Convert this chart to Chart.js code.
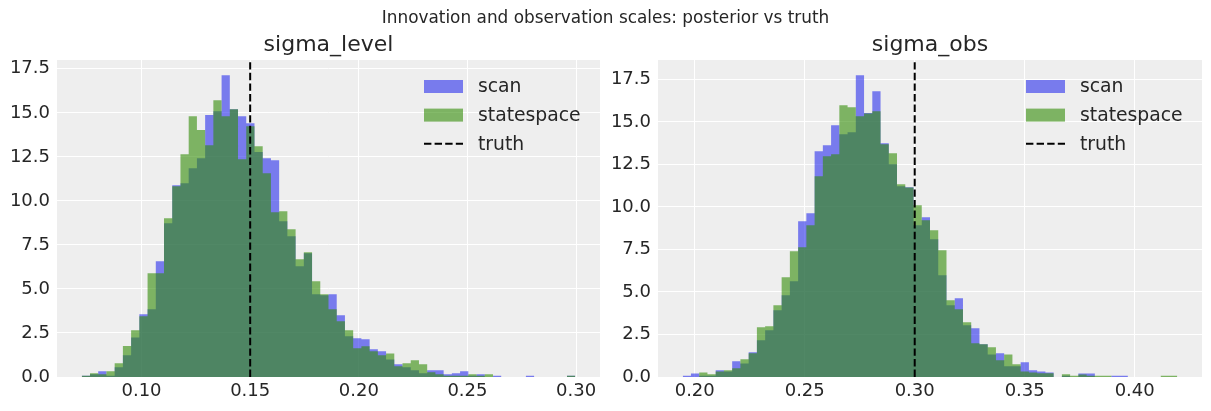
<!DOCTYPE html>
<html>
<head>
<meta charset="utf-8">
<title>Innovation and observation scales</title>
<script src="https://cdn.jsdelivr.net/npm/chart.js"></script>
<style>
  body { margin: 0; background: #fff; width: 1211px; height: 411px; position: relative; overflow: hidden; font-family: 'DejaVu Sans', sans-serif; }
  #suptitle { position: absolute; top: 7px; left: 0; width: 1211px; text-align: center; font-size: 16.9px; color: #262626; z-index: 2; }
  .panel { position: absolute; top: 0; height: 411px; }
</style>
</head>
<body>
<div class="panel" style="left:0;width:605px"><canvas id="levelChart" width="605" height="411"></canvas></div>
<div class="panel" style="left:605px;width:606px"><canvas id="obsChart" width="606" height="411"></canvas></div>
<div id="suptitle">Innovation and observation scales: posterior vs truth</div>
<script>
// histogram densities, 60 shared bins per panel
var levelBinStart = 0.0725;
var levelBinWidth = 0.003785;
var levelScan = [0.07, 0.15, 0.32, 0.07, 0.55, 1.23, 2.25, 3.56, 3.84, 6.57,
  8.73, 10.89, 11.0, 11.86, 12.42, 14.87, 15.09, 17.14, 15.21, 14.81,
  14.41, 12.77, 12.42, 12.31, 8.84, 7.99, 6.29, 7.03, 4.70, 4.64,
  4.70, 3.50, 2.31, 2.20, 2.14, 1.57, 1.46, 1.00, 0.72, 0.55,
  0.38, 0.21, 0.38, 0.38, 0.15, 0.21, 0.32, 0.07, 0.15, 0,
  0.07, 0, 0, 0, 0.07, 0, 0, 0, 0, 0.07];
var levelStatespace = [0.07, 0.21, 0.15, 0.32, 0.78, 1.76, 2.65, 3.45, 5.89, 5.89,
  9.02, 10.83, 12.65, 14.81, 14.02, 13.16, 15.72, 14.81, 15.2, 12.37,
  14.24, 13.1, 11.57, 9.36, 9.41, 8.39, 6.69, 7.08, 5.44, 4.70,
  3.84, 3.16, 2.65, 1.63, 1.74, 1.46, 1.23, 1.34, 0.61, 0.78,
  0.95, 0.72, 0.27, 0.15, 0.07, 0.07, 0.07, 0.15, 0.07, 0.15,
  0, 0, 0, 0, 0, 0, 0, 0, 0, 0.07];
var levelTruth = 0.15;

var obsBinStart = 0.19454;
var obsBinWidth = 0.003747;
var obsScan = [0.07, 0.2, 0.07, 0.07, 0.39, 0.33, 0.92, 0.80, 1.45, 2.16,
  2.75, 3.92, 4.80, 5.63, 9.16, 9.63, 13.27, 13.63, 14.80, 14.27,
  14.39, 17.75, 15.53, 16.80, 13.75, 12.51, 11.22, 11.16, 8.92, 9.39,
  8.10, 5.98, 4.22, 4.63, 3.04, 2.86, 1.92, 1.33, 1.39, 0.63,
  0.63, 0.86, 0.39, 0.33, 0.27, 0, 0.07, 0, 0.2, 0.2,
  0, 0, 0.07, 0.07, 0, 0, 0, 0, 0, 0];
var obsStatespace = [0, 0, 0.27, 0.16, 0.33, 0.39, 0.51, 1.04, 1.39, 2.92,
  2.98, 4.22, 5.86, 7.39, 7.63, 8.92, 11.80, 12.98, 13.10, 15.98,
  15.86, 15.33, 15.50, 15.63, 13.69, 13.16, 11.33, 11.14, 10.10, 9.22,
  8.63, 7.45, 4.51, 3.98, 3.22, 1.98, 1.92, 1.75, 0.98, 1.33,
  0.75, 0.33, 0.27, 0.22, 0.22, 0, 0.16, 0.07, 0.15, 0.07,
  0.07, 0.07, 0, 0, 0, 0, 0, 0, 0.07, 0.07];
var obsTruth = 0.30;

var levelTicks = [0.10, 0.15, 0.20, 0.25, 0.30];
var obsTicks = [0.20, 0.25, 0.30, 0.35, 0.40];
var yTicks = [0, 2.5, 5, 7.5, 10, 12.5, 15, 17.5];

Chart.defaults.font.family = "'DejaVu Sans'";
Chart.defaults.color = '#262626';

// outline of a histogram as a closed step path
function histPoints(start, width, vals) {
  var pts = [{ x: start, y: 0 }];
  vals.forEach(function(v, i) {
    pts.push({ x: start + i * width, y: v });
    pts.push({ x: start + (i + 1) * width, y: v });
  });
  pts.push({ x: start + vals.length * width, y: 0 });
  return pts;
}

var panelBg = {
  id: 'panelBg',
  beforeDraw: function(chart) {
    var a = chart.chartArea, ctx = chart.ctx;
    ctx.save();
    ctx.fillStyle = '#eeeeee';
    ctx.fillRect(a.left, a.top, a.right - a.left, a.bottom - a.top);
    ctx.restore();
  }
};

var insideLegend = {
  id: 'insideLegend',
  afterDraw: function(chart) {
    var a = chart.chartArea, ctx = chart.ctx;
    var x0 = a.right - 176;
    ctx.save();
    ctx.font = "18.8px 'DejaVu Sans'";
    ctx.textBaseline = 'middle';
    chart.data.datasets.forEach(function(ds, i) {
      var y = a.top + 26.5 + i * 28.6;
      if (ds.fill) {
        ctx.fillStyle = ds.backgroundColor;
        ctx.fillRect(x0, y - 6.5, 39, 13);
      } else {
        ctx.strokeStyle = ds.borderColor;
        ctx.lineWidth = ds.borderWidth;
        ctx.setLineDash(ds.borderDash);
        ctx.beginPath();
        ctx.moveTo(x0, y);
        ctx.lineTo(x0 + 39, y);
        ctx.stroke();
        ctx.setLineDash([]);
      }
      ctx.fillStyle = '#262626';
      ctx.fillText(ds.label, x0 + 54, y + 1);
    });
    ctx.restore();
  }
};

function makeChart(id, title, start, width, scan, state, truth, xMin, xMax, yMax, xTicks, axisW, padRight) {
  var ctx = document.getElementById(id).getContext('2d');
  return new Chart(ctx, {
    type: 'line',
    data: {
      datasets: [{
        label: 'scan',
        data: histPoints(start, width, scan),
        fill: 'origin',
        backgroundColor: 'rgba(42,46,236,0.6)',
        borderColor: 'transparent',
        borderWidth: 0,
        pointRadius: 0,
        order: 3
      }, {
        label: 'statespace',
        data: histPoints(start, width, state),
        fill: 'origin',
        backgroundColor: 'rgba(50,140,6,0.6)',
        borderColor: 'transparent',
        borderWidth: 0,
        pointRadius: 0,
        order: 2
      }, {
        label: 'truth',
        data: [{ x: truth, y: 0 }, { x: truth, y: yMax }],
        fill: false,
        borderColor: '#000000',
        borderWidth: 2,
        borderDash: [7.4, 3.2],
        pointRadius: 0,
        order: 1
      }]
    },
    options: {
      responsive: false,
      animation: false,
      devicePixelRatio: 1,
      layout: { padding: { left: 0, right: padRight, top: 0, bottom: 0 } },
      plugins: {
        legend: { display: false },
        tooltip: { enabled: false },
        title: {
          display: true,
          text: title,
          fullSize: false,
          color: '#262626',
          font: { size: 22, weight: 'normal' },
          padding: { top: 32, bottom: 1.6 }
        }
      },
      scales: {
        x: {
          type: 'linear',
          min: xMin,
          max: xMax,
          afterBuildTicks: function(s) { s.ticks = xTicks.map(function(v) { return { value: v }; }); },
          afterFit: function(s) { s.height = 34; },
          ticks: { font: { size: 18 }, padding: 4, maxRotation: 0, autoSkip: false,
            callback: function(v) { return v.toFixed(2); } },
          grid: { color: '#ffffff', lineWidth: 1, drawTicks: false },
          border: { display: false }
        },
        y: {
          type: 'linear',
          min: 0,
          max: yMax,
          afterBuildTicks: function(s) { s.ticks = yTicks.map(function(v) { return { value: v }; }); },
          afterFit: function(s) { s.width = axisW; },
          ticks: { font: { size: 18 }, padding: 7, autoSkip: false,
            callback: function(v) { return v.toFixed(1); } },
          grid: { color: '#ffffff', lineWidth: 1, drawTicks: false },
          border: { display: false }
        }
      }
    },
    plugins: [panelBg, insideLegend]
  });
}

makeChart('levelChart', 'sigma_level', levelBinStart, levelBinWidth, levelScan, levelStatespace,
  levelTruth, 0.0611, 0.311, 18.0, levelTicks, 57, 5);
makeChart('obsChart', 'sigma_obs', obsBinStart, obsBinWidth, obsScan, obsStatespace,
  obsTruth, 0.1833, 0.4306, 18.64, obsTicks, 53, 9);
</script>
</body>
</html>
